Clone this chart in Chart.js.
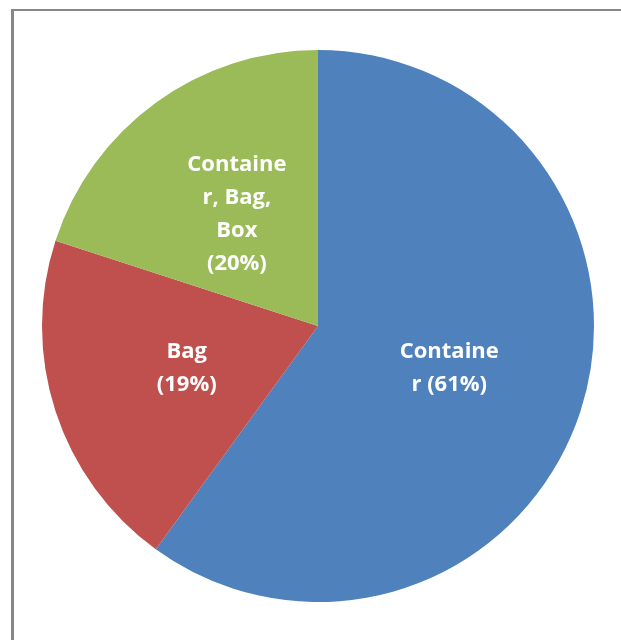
<!DOCTYPE html>
<html>
<head>
<meta charset="utf-8">
<script src="https://cdn.jsdelivr.net/npm/chart.js@4"></script>
<style>
  html, body { margin: 0; padding: 0; background: #fff; overflow: hidden; }
  #frame { position: absolute; left: 11px; top: 9px; width: 700px; height: 700px;
           border-left: 3px solid #878787; border-top: 2px solid #878787; box-sizing: border-box; }
  #wrap { position: absolute; left: 0; top: 0; width: 621px; height: 640px; }
</style>
</head>
<body>
<div id="frame"></div>
<div id="wrap"><canvas id="c" width="621" height="640"></canvas></div>
<script>
const categories = ["Container", "Bag", "Container, Bag, Box"];
const shares = [60, 20, 20];
const labelLines = [["Containe", "r (61%)"], ["Bag", "(19%)"], ["Containe", "r, Bag,", "Box", "(20%)"]];
const sliceColors = ["#4F81BD", "#C0504D", "#9BBB59"];

const labelPlugin = {
  id: 'sliceLabels',
  afterDatasetsDraw(chart) {
    const ctx = chart.ctx;
    const meta = chart.getDatasetMeta(0);
    ctx.save();
    ctx.fillStyle = '#ffffff';
    ctx.font = 'bold 22px "Open Sans", "DejaVu Sans", sans-serif';
    ctx.textAlign = 'center';
    ctx.textBaseline = 'middle';
    const lh = 33;
    meta.data.forEach((arc, i) => {
      const p = arc.getCenterPoint();
      const lines = labelLines[i];
      const start = p.y - (lines.length - 1) * lh / 2;
      lines.forEach((t, j) => ctx.fillText(t, p.x, start + j * lh));
    });
    ctx.restore();
  }
};

new Chart(document.getElementById('c'), {
  type: 'pie',
  data: {
    labels: categories,
    datasets: [{ data: shares, backgroundColor: sliceColors, borderWidth: 0 }]
  },
  options: {
    responsive: false,
    animation: false,
    layout: { padding: { left: 42, top: 50, right: 27, bottom: 38 } },
    plugins: { legend: { display: false }, tooltip: { enabled: false } }
  },
  plugins: [labelPlugin]
});
</script>
</body>
</html>
